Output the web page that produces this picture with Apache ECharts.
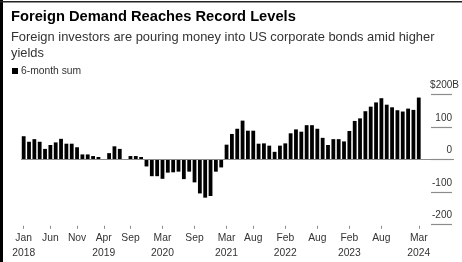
<!DOCTYPE html>
<html>
<head>
<meta charset="utf-8">
<script src="https://cdn.jsdelivr.net/npm/echarts@6/dist/echarts.min.js"></script>
<style>
  html, body { margin: 0; padding: 0; background: #fff; }
  #chart { width: 462px; height: 262px; }
</style>
</head>
<body>
<div id="chart"></div>
<script>
// 6-month sum of foreign purchases of US corporate bonds, $B, Jan 2018 .. Mar 2024
var startYear = 2018;
var sums = [
  71, 54, 62, 54, 32, 44, 52, 63, 48, 48, 37, 15,
  15, 10, 7, 1, 19, 40, 32, 1, 10, 10, 7, -22,
  -52, -52, -60, -41, -40, -38, -61, -38, -71, -105, -118, -113,
  -38, -25, 45, 78, 94, 119, 88, 88, 48, 49, 42, 23,
  42, 49, 80, 92, 85, 105, 105, 94, 66, 44, 62, 62,
  55, 87, 118, 126, 148, 162, 175, 188, 168, 160, 151, 147,
  156, 152, 190
];
var monthNames = ['Jan', 'Feb', 'Mar', 'Apr', 'May', 'Jun', 'Jul', 'Aug', 'Sep', 'Oct', 'Nov', 'Dec'];
var months = sums.map(function (v, i) {
  return monthNames[i % 12] + ' ' + (startYear + Math.floor(i / 12));
});
// labelled ticks on the x axis
var tickMonths = ['Jan 2018', 'Jun 2018', 'Nov 2018', 'Apr 2019', 'Sep 2019', 'Mar 2020', 'Sep 2020',
  'Mar 2021', 'Aug 2021', 'Feb 2022', 'Aug 2022', 'Feb 2023', 'Aug 2023', 'Mar 2024'];
var yTicks = [-200, -100, 0, 100, 200];

var tickIdx = tickMonths.map(function (m) { return months.indexOf(m); });
var font = '"Liberation Sans", Arial, sans-serif';

var myChart = echarts.init(document.getElementById('chart'), null, { renderer: 'canvas' });

var option = {
  animation: false,
  backgroundColor: '#fff',
  textStyle: { fontFamily: font },
  title: {
    text: 'Foreign Demand Reaches Record Levels',
    subtext: 'Foreign investors are pouring money into US corporate bonds amid higher\nyields',
    left: 11,
    top: 9,
    padding: 0,
    itemGap: 5,
    textStyle: { fontFamily: font, fontSize: 14.7, fontWeight: 'bold', color: '#000' },
    subtextStyle: { fontFamily: font, fontSize: 12.9, color: '#333', lineHeight: 16 }
  },
  legend: {
    data: ['6-month sum'],
    left: 12,
    top: 66,
    padding: 0,
    icon: 'rect',
    itemWidth: 6,
    itemHeight: 6,
    itemGap: 4,
    textStyle: { fontFamily: font, fontSize: 10.3, color: '#333', padding: [0, 0, 0, -2] }
  },
  graphic: [
    { type: 'rect', shape: { x: 0, y: 0, width: 3, height: 262 }, style: { fill: '#000' }, silent: true },
    { type: 'rect', shape: { x: 0, y: 1, width: 462, height: 1.5 }, style: { fill: '#222' }, silent: true }
  ],
  grid: [
    { left: 21, right: 8, top: 94.3, bottom: 37.7 },
    { left: 431, right: 8, top: 94.3, bottom: 37.7 }
  ],
  xAxis: [
    {
      type: 'value',
      gridIndex: 0,
      min: -0.5,
      max: sums.length - 0.5 + 6.1,
      offset: 1.5,
      axisLine: { show: false, onZero: false },
      splitLine: { show: false },
      axisTick: { show: true, length: 3, customValues: tickIdx, lineStyle: { color: '#888' } },
      axisLabel: {
        customValues: tickIdx,
        margin: 5,
        fontSize: 10.3,
        lineHeight: 15,
        color: '#333',
        formatter: function (v) {
          var i = Math.round(v);
          var m = months[i].split(' ');
          // year goes on the first label and on the first tick of each new year
          var k = tickIdx.indexOf(i);
          var showYear = k === 0 || months[tickIdx[k - 1]].split(' ')[1] !== m[1];
          return showYear ? m[0] + '\n' + m[1] : m[0];
        }
      }
    },
    { type: 'value', gridIndex: 1, show: false, min: 0, max: 1 }
  ],
  yAxis: [
    {
      type: 'value',
      gridIndex: 0,
      min: yTicks[0],
      max: yTicks[yTicks.length - 1],
      interval: 100,
      show: false,
      splitLine: { show: false }
    },
    {
      type: 'value',
      gridIndex: 1,
      position: 'right',
      min: yTicks[0],
      max: yTicks[yTicks.length - 1],
      interval: 100,
      axisLine: { show: false },
      axisTick: { show: false },
      splitLine: { show: true, lineStyle: { color: '#8c8c8c', width: 1.2 } },
      axisLabel: {
        inside: true,
        margin: -7,
        verticalAlign: 'bottom',
        padding: [0, 0, 4, 0],
        fontSize: 10,
        color: '#333',
        // unit "B" hangs past the right edge of the numbers, like the original
        formatter: function (v) {
          return v === yTicks[yTicks.length - 1] ? '$' + v + 'B' : v + '{p|}';
        },
        rich: { p: { width: 7, fontSize: 10 } }
      }
    }
  ],
  series: [
    {
      name: '6-month sum',
      type: 'bar',
      xAxisIndex: 0,
      yAxisIndex: 0,
      data: sums.map(function (v, i) { return [i, v]; }),
      barWidth: 3.8,
      itemStyle: { color: '#000' },
      markLine: {
        silent: true,
        symbol: 'none',
        label: { show: false },
        lineStyle: { color: '#8c8c8c', width: 1.2, type: 'solid' },
        data: [{ yAxis: 0 }]
      }
    }
  ]
};

myChart.setOption(option);
</script>
</body>
</html>
